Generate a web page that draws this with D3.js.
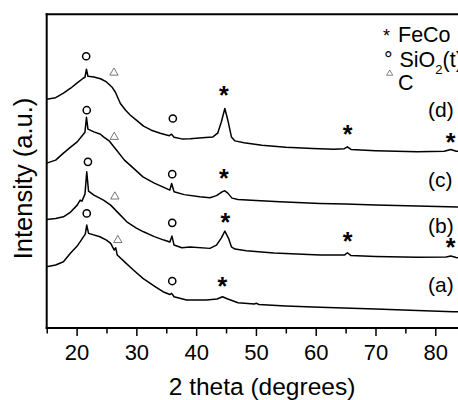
<!DOCTYPE html>
<html>
<head>
<meta charset="utf-8">
<script src="https://cdn.jsdelivr.net/npm/d3@7"></script>
<style>
  body { margin: 0; background: #fff; }
  svg { display: block; font-family: "Liberation Sans", Arial, sans-serif; }
</style>
</head>
<body>
<div id="chart"></div>
<script>
// diffraction traces: 2 theta (deg) and intensity (a.u., offset stack)
const thetaD = [15, 16.5, 17.8, 19, 20.1, 21.0, 21.4, 21.65, 21.9, 22.9, 24, 25, 25.9, 26.5, 27.3, 28.2, 29, 30, 31.2, 32.5, 34, 35.5, 35.9, 36.3, 37.6, 39, 41, 42.8, 43.6, 44.2, 44.8, 45.3, 45.9, 46.5, 48, 51, 55, 59.5, 63, 64.8, 65.3, 65.9, 70, 77, 81.5, 82.6, 83.5, 85];
const intD = [229, 230.5, 235, 240, 245.3, 249.5, 251, 259, 252, 251.3, 249.5, 246.3, 241.3, 236, 225, 218, 213, 208, 202, 198, 195, 192.5, 194, 191, 189.3, 189.5, 190.5, 191.3, 195, 206, 219.7, 208, 191.3, 187.3, 185.5, 183, 181, 179.7, 179, 179.5, 181.3, 178.7, 177.5, 176.3, 177, 178.7, 177, 176];

const thetaC = [15, 16.5, 17.8, 19, 20.1, 21.0, 21.4, 21.65, 21.9, 22.9, 24, 24.5, 25.5, 26.7, 28, 29.5, 31.1, 33, 34.5, 35.6, 35.9, 36.3, 38, 40.6, 42.3, 43.4, 44.4, 44.8, 45.3, 46.0, 47, 50, 54, 60.7, 65, 70, 77, 85];
const intC = [165, 168, 175, 181, 186.3, 193, 196, 211, 199, 196.3, 194, 191.3, 187, 178, 168, 160, 151.3, 145, 141, 138, 144.7, 136.3, 133.5, 131.3, 130.3, 132.5, 136.5, 137.3, 135, 130, 128.7, 127.5, 126.3, 124.7, 124, 123, 122, 121];

const thetaB = [15, 16.5, 17.8, 19, 20.1, 20.6, 20.9, 21.4, 21.7, 22.0, 22.9, 24.5, 25.7, 27, 28.4, 30, 31.2, 33, 34.6, 35.6, 35.96, 36.3, 37.6, 39, 42.3, 43.4, 44.2, 44.8, 45.4, 45.9, 46.5, 48.4, 53, 60.7, 64.8, 65.3, 65.9, 70, 77, 81.8, 82.6, 83.5, 85];
const intB = [108.7, 109.5, 111.3, 116, 123, 128, 127, 134, 156.3, 137, 133, 128, 123, 115, 106.3, 100, 96.3, 91.5, 88, 86, 92, 83, 80.3, 81, 79.7, 83, 90, 97, 90, 81.3, 79, 77.3, 75, 73, 73, 75.3, 72.5, 71.5, 70.7, 71, 72, 70.5, 70];

const thetaA = [15, 16.5, 17.8, 19, 20.1, 21.0, 21.45, 21.7, 22.0, 23.9, 25, 25.7, 26.3, 26.55, 26.8, 28.3, 29.5, 31.1, 33, 34.45, 35.6, 35.9, 36.3, 38.4, 41.7, 43.5, 44.4, 45.3, 47, 49.7, 50.1, 50.5, 55, 60.7, 70, 77, 83, 85];
const intA = [61.3, 63, 66.3, 75, 82, 90, 94, 103, 94.7, 91.3, 88, 84.7, 78, 80.3, 73, 64.7, 58, 49.7, 42, 36.3, 33.5, 34.7, 31.3, 28, 28, 29, 31.3, 29, 25.3, 24, 24.7, 23.5, 22, 20.7, 19, 17.5, 16.3, 16];

// phase markers (2 theta, intensity)
const starTheta = [44.65, 65.35, 82.6, 44.65, 44.9, 65.35, 82.6, 44.4];
const starInt = [233.7, 193.7, 186.3, 149.7, 106.3, 87.3, 81.3, 42];
const ringTheta = [21.6, 36.1, 21.7, 36.0, 21.9, 36.0, 21.7, 36.0];
const ringInt = [272, 209.7, 218, 154, 166.3, 105.3, 114.7, 47];
const triTheta = [26.25, 26.3, 26.4, 26.9];
const triInt = [256.3, 192, 132.3, 88.7];

const curveLabels = ["(d)", "(c)", "(b)", "(a)"];
const labelInt = [211, 141.5, 95, 36];

const majorTicks = [20, 30, 40, 50, 60, 70, 80];
const minorTicks = [15, 25, 35, 45, 55, 65, 75, 85];

const W = 458, H = 400;
const margin = {top: 14.3, left: 46.7, bottom: 72};

const svg = d3.select("#chart").append("svg")
    .attr("width", W)
    .attr("height", H);

svg.append("rect").attr("width", W).attr("height", H).attr("fill", "#fff");

const x = d3.scaleLinear().domain([15, 85]).range([margin.left, margin.left + 70 * 5.978]);
const y = d3.scaleLinear().domain([0, 314]).range([H - margin.bottom, margin.top]);

const line = d3.line()
    .x(d => x(d[0]))
    .y(d => y(d[1]));

const series = [[thetaD, intD], [thetaC, intC], [thetaB, intB], [thetaA, intA]];

svg.append("defs").append("clipPath").attr("id", "plotclip")
    .append("rect")
    .attr("x", margin.left).attr("y", margin.top)
    .attr("width", W - margin.left).attr("height", y(0) - margin.top);

svg.append("g").attr("clip-path", "url(#plotclip)")
    .selectAll("path")
    .data(series)
    .join("path")
    .attr("d", s => line(d3.zip(s[0], s[1])))
    .attr("fill", "none")
    .attr("stroke", "#000")
    .attr("stroke-width", 1.5)
    .attr("stroke-linejoin", "round");

// axes
const xAxis = svg.append("g")
    .attr("transform", "translate(0," + y(0) + ")")
    .call(d3.axisBottom(x).tickValues(majorTicks).tickSize(8).tickPadding(8).tickFormat(d3.format("d")));
xAxis.select(".domain").remove();
xAxis.selectAll(".tick line").attr("stroke-width", 1.5);
xAxis.selectAll("text")
    .attr("font-size", 22)
    .attr("font-family", "Liberation Sans, Arial, sans-serif")
    .attr("fill", "#000");

const xMinor = svg.append("g")
    .attr("transform", "translate(0," + y(0) + ")")
    .call(d3.axisBottom(x).tickValues(minorTicks).tickSize(5.5).tickFormat(""));
xMinor.select(".domain").remove();
xMinor.selectAll(".tick line").attr("stroke-width", 1.5);

// frame: bottom, left, top
svg.append("line").attr("x1", margin.left - 1).attr("x2", W).attr("y1", y(0)).attr("y2", y(0))
    .attr("stroke", "#000").attr("stroke-width", 2);
svg.append("line").attr("x1", margin.left).attr("x2", margin.left).attr("y1", margin.top - 1).attr("y2", y(0) + 1)
    .attr("stroke", "#000").attr("stroke-width", 2);
svg.append("line").attr("x1", margin.left - 1).attr("x2", W).attr("y1", margin.top).attr("y2", margin.top)
    .attr("stroke", "#000").attr("stroke-width", 2);

// markers
const centerOn = function(sel, cx, cy) {
    sel.each(function(d, i) {
        const b = this.getBBox();
        const tx = cx(d, i) - (b.x + b.width / 2);
        const ty = cy(d, i) - (b.y + b.height / 2);
        d3.select(this).attr("transform", "translate(" + tx + "," + ty + ")");
    });
};

const stars = svg.append("g").selectAll("text")
    .data(starTheta)
    .join("text")
    .attr("font-size", 25)
    .attr("font-weight", "bold")
    .attr("fill", "#000")
    .text("*");
centerOn(stars, (d) => x(d), (d, i) => y(starInt[i]));

svg.append("g").selectAll("circle")
    .data(ringTheta)
    .join("circle")
    .attr("cx", d => x(d))
    .attr("cy", (d, i) => y(ringInt[i]))
    .attr("r", 3.6)
    .attr("fill", "none")
    .attr("stroke", "#000")
    .attr("stroke-width", 1.5);

svg.append("g").selectAll("path")
    .data(triTheta)
    .join("path")
    .attr("d", d3.symbol(d3.symbolTriangle, 30))
    .attr("transform", (d, i) => "translate(" + x(d) + "," + (y(triInt[i]) + 0.8) + ")")
    .attr("fill", "none")
    .attr("stroke", "#666")
    .attr("stroke-width", 0.9);

// curve labels
svg.append("g").selectAll("text")
    .data(curveLabels)
    .join("text")
    .attr("x", 428)
    .attr("y", (d, i) => y(labelInt[i]))
    .attr("font-size", 21)
    .attr("fill", "#000")
    .text(d => d);

// legend
const leg = svg.append("g").attr("font-size", 21.5).attr("fill", "#000");
leg.append("text").attr("x", 383).attr("y", 41.7).attr("font-size", 18).text("*");
leg.append("text").attr("x", 398).attr("y", 41.7).text("FeCo");
leg.append("text").attr("x", 384).attr("y", 66.7).text("°");
const sio = leg.append("text").attr("x", 399.5).attr("y", 66.7);
sio.append("tspan").text("SiO");
sio.append("tspan").attr("font-size", 13).attr("dy", 7).text("2");
sio.append("tspan").attr("dy", -7).text("(t)");
leg.append("path")
    .attr("d", d3.symbol(d3.symbolTriangle, 16))
    .attr("transform", "translate(389.7,73.5)")
    .attr("fill", "none").attr("stroke", "#666").attr("stroke-width", 0.8);
leg.append("text").attr("x", 398).attr("y", 90).text("C");

// axis titles
svg.append("text")
    .attr("x", 262).attr("y", 395)
    .attr("text-anchor", "middle")
    .attr("font-size", 24.5)
    .attr("fill", "#000")
    .text("2 theta (degrees)");

svg.append("text")
    .attr("transform", "translate(31.5,178.5) rotate(-90)")
    .attr("text-anchor", "middle")
    .attr("font-size", 25.5)
    .attr("fill", "#000")
    .text("Intensity (a.u.)");
</script>
</body>
</html>
